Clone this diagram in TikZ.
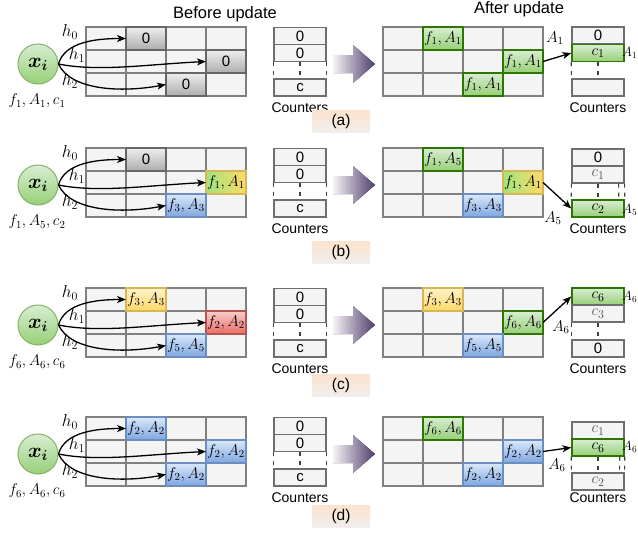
\documentclass[tikz,border=0pt]{standalone}
\usepackage{fontspec}
\setmainfont{Liberation Sans}
\usepackage{bm}
\usetikzlibrary{arrows.meta}

\definecolor{gridgray}{HTML}{808080}
\definecolor{cellfill}{HTML}{F4F4F4}
\definecolor{ctrdraw}{HTML}{6E6E6E}
\definecolor{grayT}{HTML}{EEEEEE}
\definecolor{grayB}{HTML}{ADADAD}
\definecolor{graydraw}{HTML}{666666}
\definecolor{greenT}{HTML}{D8EDD3}
\definecolor{greenB}{HTML}{97D077}
\definecolor{greendraw}{HTML}{82B366}
\definecolor{darkgreen}{HTML}{2D7600}
\definecolor{yelT}{HTML}{FFF2CC}
\definecolor{yelB}{HTML}{FFD966}
\definecolor{yeldraw}{HTML}{D6B656}
\definecolor{bluT}{HTML}{DAE8FC}
\definecolor{bluB}{HTML}{7EA6E0}
\definecolor{bludraw}{HTML}{6C8EBF}
\definecolor{redT}{HTML}{F8CECC}
\definecolor{redB}{HTML}{EA6B66}
\definecolor{reddraw}{HTML}{B85450}
\definecolor{gyL}{HTML}{A0E47F}
\definecolor{gyR}{HTML}{FFD966}
\definecolor{arrL}{HTML}{F6F2F8}
\definecolor{arrR}{HTML}{4E3E6A}
\definecolor{tagT}{HTML}{FCE3CD}
\definecolor{tagB}{HTML}{F1EEEB}
\definecolor{softtext}{HTML}{555555}

\newcommand{\cm}[1]{\scalebox{1.08}{$#1$}}
\newcommand{\edgem}[1]{\scalebox{0.93}{$#1$}}

\tikzset{
  cell/.style={draw=gridgray, fill=cellfill, line width=1.3pt, minimum width=40pt,
    minimum height=23pt, inner sep=0pt, outer sep=0pt},
  mathtxt/.style={font=\fontsize{14.4}{17}\selectfont},
  graycell/.style={cell, draw=graydraw, top color=grayT, bottom color=grayB,
    font=\fontsize{15}{16}\selectfont},
  greencell/.style={cell, draw=darkgreen, top color=greenT, bottom color=greenB, mathtxt},
  yelcell/.style={cell, draw=yeldraw, top color=yelT, bottom color=yelB, mathtxt},
  blucell/.style={cell, draw=bludraw, top color=bluT, bottom color=bluB, mathtxt},
  redcell/.style={cell, draw=reddraw, top color=redT, bottom color=redB, mathtxt},
  gycell/.style={cell, draw=yeldraw, left color=gyL, right color=gyR, mathtxt},
  xinode/.style={circle, draw=greendraw, top color=greenT, bottom color=greenB,
    minimum size=40pt, inner sep=0pt, line width=1pt, font=\fontsize{20.74}{23}\selectfont},
  ctr/.style={draw=ctrdraw, fill=cellfill, line width=1.2pt, minimum width=52pt,
    minimum height=17pt, inner sep=0pt, font=\fontsize{15}{16}\selectfont},
  gctr/.style={ctr, draw=darkgreen, line width=1.4pt, top color=greenT, bottom color=greenB},
  softctr/.style={ctr, text=softtext},
  dmark/.style={draw=black!75, line width=1.2pt, dash pattern=on 4pt off 5pt},
  arr/.style={line width=1.3pt, -{Stealth[length=9pt,width=7pt,inset=2.5pt]}},
  mlbl/.style={inner sep=0pt, font=\fontsize{14.4}{17}\selectfont},
  hlbl/.style={inner sep=0pt, font=\fontsize{17.28}{19}\selectfont},
  txt/.style={inner sep=0pt, font=\fontsize{14}{16}\selectfont},
  hdr/.style={inner sep=0pt, font=\fontsize{16.5}{18}\selectfont},
  tagbox/.style={minimum width=57pt, minimum height=22pt, inner sep=0pt,
    top color=tagT, bottom color=tagB, font=\fontsize{15.5}{17}\selectfont},
  bigarrow/.style={left color=arrL, right color=arrR}
}

% #1 name, #2 grid top, #3 input label, #4 tag text, #5 tag y
\newcommand{\basepanel}[5]{%
  \foreach \r in {0,1,2}{\foreach \c in {0,1,2,3}{%
    \node[cell] (#1-b-\r-\c) at ({106+40*\c},{#2+11.5+23*\r}) {};
    \node[cell] (#1-a-\r-\c) at ({403+40*\c},{#2+11.5+23*\r}) {};
  }}
  \node[xinode] (#1-x) at (38,#2+37) {$\bm{x}_{\bm{i}}$};
  \node[mlbl] (#1-fl) at (37,#2+74) {\cm{#3}};
  \node[hlbl] (#1-h0) at (70,#2+5) {$h_0$};
  \node[hlbl] (#1-h1) at (77,#2+28) {$h_1$};
  \node[hlbl] (#1-h2) at (70,#2+54) {$h_2$};
  \node[ctr] (#1-cb1) at (300,#2+9) {0};
  \node[ctr] (#1-cb2) at (300,#2+26) {0};
  \node[ctr] (#1-cb3) at (300,#2+60.5) {c};
  \draw[dmark] (#1-cb2.south west) -- (#1-cb3.north west);
  \draw[dmark] (#1-cb2.south) -- (#1-cb3.north);
  \draw[dmark] (#1-cb2.south east) -- (#1-cb3.north east);
  \node[txt] (#1-cl) at (300,#2+81) {Counters};
  \node[txt] (#1-cr) at (598,#2+81) {Counters};
  \fill[bigarrow] (333,#2+28) -- (353,#2+28) -- (353,#2+18) -- (375,#2+37)
    -- (353,#2+56) -- (353,#2+46) -- (333,#2+46) -- cycle;
  \node[tagbox] (#1-tag) at (341,#5) {#4};
}
\newcommand{\hasharrows}[1]{%
  \draw[arr] (#1-x.east) .. controls +(6,-22) and +(-30,0) .. (#1-b-0-1.west);
  \draw[arr] (#1-x.east) .. controls +(40,8) and +(-60,3) .. (#1-b-1-3.west);
  \draw[arr] (#1-x.east) .. controls +(12,26) and +(-46,8.5) .. (#1-b-2-2.west);
}

\begin{document}
\begin{tikzpicture}[x=1pt,y=-1pt]
\useasboundingbox (0,0) rectangle (638,533);
\clip (0,0) rectangle (638,533);

\node[hdr] (hbefore) at (225,14) {Before update};
\node[hdr] (hafter) at (519,9) {After update};

% ---------------- (a)
\basepanel{a}{27}{f_1, A_1, c_1}{(a)}{121}
\node[graycell] (a-g0) at (a-b-0-1) {0};
\node[graycell] (a-g1) at (a-b-1-3) {0};
\node[graycell] (a-g2) at (a-b-2-2) {0};
\hasharrows{a}
\node[greencell] (a-n0) at (a-a-0-1) {\cm{f_1, A_1}};
\node[greencell] (a-n1) at (a-a-1-3) {\cm{f_1, A_1}};
\node[greencell] (a-n2) at (a-a-2-2) {\cm{f_1, A_1}};
\node[ctr] (a-ca1) at (598,35.5) {0};
\node[gctr] (a-ca2) at (598,53) {\cm{c_1}};
\node[ctr] (a-ca3) at (598,87.5) {};
\draw[dmark] (a-ca2.south west) -- (a-ca3.north west);
\draw[dmark] (a-ca2.south) -- (a-ca3.north);
\draw[arr] (a-n1.east) -- (a-ca2.west);
\node[mlbl] (a-A) at (555,38) {\cm{A_1}};
\node[mlbl, anchor=west] (a-Ar) at (622,53) {\edgem{A_1}};

% ---------------- (b)
\basepanel{b}{148}{f_1, A_5, c_2}{(b)}{252}
\node[graycell] (b-g0) at (b-b-0-1) {0};
\node[gycell] (b-g1) at (b-b-1-3) {\cm{f_1, A_1}};
\node[blucell] (b-g2) at (b-b-2-2) {\cm{f_3, A_3}};
\hasharrows{b}
\node[greencell] (b-n0) at (b-a-0-1) {\cm{f_1, A_5}};
\node[gycell] (b-n1) at (b-a-1-3) {\cm{f_1, A_1}};
\node[blucell] (b-n2) at (b-a-2-2) {\cm{f_3, A_3}};
\node[ctr] (b-ca1) at (598,157.5) {0};
\node[softctr] (b-ca2) at (598,174.5) {\cm{c_1}};
\node[gctr] (b-ca3) at (598,208.5) {\cm{c_2}};
\draw[dmark] (b-ca2.south west) -- (b-ca3.north west);
\draw[dmark] (b-ca2.south) -- (b-ca3.north);
\draw[dmark] ([xshift=-6pt]b-ca2.south east) -- ([xshift=-6pt]b-ca3.north east);
\draw[dmark] (b-ca2.south east) -- (b-ca3.north east);
\draw[arr] (b-n1.east) -- (b-ca3.west);
\node[mlbl] (b-A) at (553,218) {\cm{A_5}};
\node[mlbl, anchor=west] (b-Ar) at (622,210) {\edgem{A_5}};

% ---------------- (c)
\basepanel{c}{288}{f_6, A_6, c_6}{(c)}{385}
\node[yelcell] (c-g0) at (c-b-0-1) {\cm{f_3, A_3}};
\node[redcell] (c-g1) at (c-b-1-3) {\cm{f_2, A_2}};
\node[blucell] (c-g2) at (c-b-2-2) {\cm{f_5, A_5}};
\hasharrows{c}
\node[yelcell] (c-n0) at (c-a-0-1) {\cm{f_3, A_3}};
\node[greencell] (c-n1) at (c-a-1-3) {\cm{f_6, A_6}};
\node[blucell] (c-n2) at (c-a-2-2) {\cm{f_5, A_5}};
\node[gctr] (c-ca1) at (598,296.5) {\cm{c_6}};
\node[softctr] (c-ca2) at (598,313.5) {\cm{c_3}};
\node[ctr] (c-ca3) at (598,348.5) {0};
\draw[dmark] (c-ca2.south west) -- (c-ca3.north west);
\draw[dmark] (c-ca2.south) -- (c-ca3.north);
\draw[arr] (c-n1.east) -- (c-ca1.west);
\node[mlbl] (c-A) at (561,327) {\cm{A_6}};
\node[mlbl, anchor=west] (c-Ar) at (622,297) {\edgem{A_6}};

% ---------------- (d)
\basepanel{d}{417}{f_6, A_6, c_6}{(d)}{516}
\node[blucell] (d-g0) at (d-b-0-1) {\cm{f_2, A_2}};
\node[blucell] (d-g1) at (d-b-1-3) {\cm{f_2, A_2}};
\node[blucell] (d-g2) at (d-b-2-2) {\cm{f_2, A_2}};
\hasharrows{d}
\node[greencell] (d-n0) at (d-a-0-1) {\cm{f_6, A_6}};
\node[blucell] (d-n1) at (d-a-1-3) {\cm{f_2, A_2}};
\node[blucell] (d-n2) at (d-a-2-2) {\cm{f_2, A_2}};
\node[softctr] (d-ca1) at (598,430.5) {\cm{c_1}};
\node[gctr] (d-ca2) at (598,447.5) {\cm{c_6}};
\node[softctr] (d-ca3) at (598,481.5) {\cm{c_2}};
\draw[dmark] (d-ca2.south west) -- (d-ca3.north west);
\draw[dmark] (d-ca2.south) -- (d-ca3.north);
\draw[dmark] ([xshift=-5pt]d-ca2.south east) -- ([xshift=-5pt]d-ca3.north east);
\draw[dmark] (d-ca2.south east) -- (d-ca3.north east);
\draw[arr] (d-n1.east) -- (d-ca2.west);
\node[mlbl] (d-A) at (557,465) {\cm{A_6}};
\node[mlbl, anchor=west] (d-Ar) at (622,447) {\edgem{A_6}};
\end{tikzpicture}
\end{document}
